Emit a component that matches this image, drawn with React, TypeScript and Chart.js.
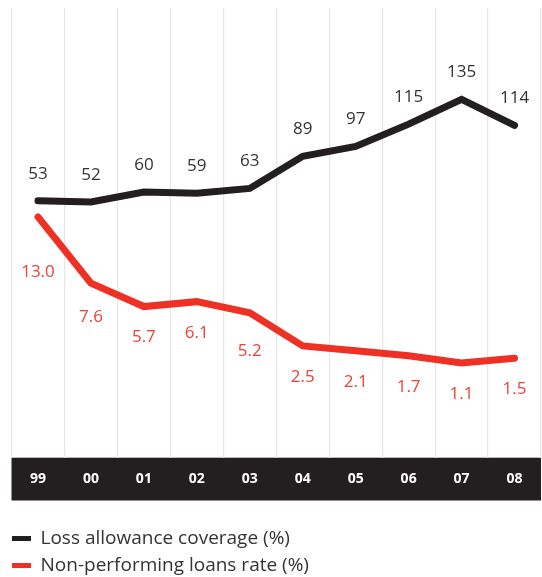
import { useEffect, useRef } from "react"
import { Chart, registerables } from "chart.js"

Chart.register(...registerables)

const years = ["99", "00", "01", "02", "03", "04", "05", "06", "07", "08"]
const coverage = [53, 52, 60, 59, 63, 89, 97, 115, 135, 114]
const nplRate = [13.0, 7.6, 5.7, 6.1, 5.2, 2.5, 2.1, 1.7, 1.1, 1.5]
const seriesNames = ["Loss allowance coverage (%)", "Non-performing loans rate (%)"]

const BLACK = "#231f20"
const RED = "#ee3124"
const FONT = "'Open Sans', sans-serif"

// value labels: black series above the line, red series below it
const valueLabels = {
  id: "valueLabels",
  afterDatasetsDraw(chart: any) {
    const ctx = chart.ctx
    ctx.save()
    ctx.font = `17px ${FONT}`
    ctx.textAlign = "center"
    ctx.textBaseline = "middle"
    chart.data.datasets.forEach((ds: any, di: number) => {
      const pts = chart.getDatasetMeta(di).data
      pts.forEach((pt: any, i: number) => {
        const v = ds.data[i] as number
        if (di === 0) {
          ctx.fillStyle = "#333333"
          ctx.fillText(String(v), pt.x, pt.y - 27)
        } else {
          // keep the label clear of the neighbouring segments
          let y = pt.y + 31
          ;[pts[i - 1], pts[i + 1]].forEach((n: any) => {
            if (n) y = Math.max(y, (pt.y + n.y) / 2 + 22)
          })
          ctx.fillStyle = "#ef4136"
          ctx.fillText(v.toFixed(1), pt.x, y)
        }
      })
    })
    ctx.restore()
  },
}

export default function App() {
  const canvasRef = useRef<HTMLCanvasElement>(null)

  useEffect(() => {
    if (!canvasRef.current) return
    const chart = new Chart(canvasRef.current, {
      type: "line",
      data: {
        labels: years,
        datasets: [
          {
            label: seriesNames[0],
            data: coverage,
            borderColor: BLACK,
            backgroundColor: BLACK,
            borderWidth: 7,
            borderCapStyle: "round",
            borderJoinStyle: "miter",
            pointRadius: 0,
            tension: 0,
            yAxisID: "y",
          },
          {
            label: seriesNames[1],
            data: nplRate,
            borderColor: RED,
            backgroundColor: RED,
            borderWidth: 7,
            borderCapStyle: "round",
            borderJoinStyle: "miter",
            pointRadius: 0,
            tension: 0,
            yAxisID: "y1",
          },
        ],
      },
      options: {
        responsive: false,
        animation: false,
        layout: { padding: { top: 8, left: 4, right: 1, bottom: 0 } },
        scales: {
          x: {
            offset: true,
            backgroundColor: BLACK,
            grid: { offset: true, color: "#e6e6e6", lineWidth: 1.2, drawTicks: false },
            border: { display: false },
            ticks: {
              color: "#ffffff",
              font: { family: FONT, size: 14, weight: "bold" },
              padding: 13,
            },
          },
          y: { display: false, min: -155, max: 209 },
          y1: {
            position: "left",
            min: -6.6,
            max: 30,
            grid: { display: false },
            border: { display: false },
            ticks: { display: false },
            afterFit: (s: any) => {
              s.width = 7.5
            },
          },
        },
        plugins: {
          legend: {
            position: "bottom",
            align: "start",
            title: { display: true, text: "", padding: 0, font: { size: 20.5, lineHeight: 1 } },
            labels: {
              boxWidth: 19,
              boxHeight: 5,
              padding: 8,
              color: "#333333",
              font: { family: FONT, size: 19 },
              generateLabels: (c: any) =>
                Chart.defaults.plugins.legend.labels
                  .generateLabels(c)
                  .map((l: any) => ({ ...l, lineWidth: 0, fillStyle: l.strokeStyle })),
            },
          },
          tooltip: { enabled: false },
        },
      },
      plugins: [valueLabels],
    } as any)

    return () => {
      chart.destroy()
    }
  }, [])

  return (
    <div
      style={{
        position: "absolute",
        left: 0,
        top: 0,
        width: 542,
        height: 577,
        overflow: "hidden",
        background: "#fff",
      }}
    >
      <canvas ref={canvasRef} width={542} height={585} style={{ display: "block" }} />
    </div>
  )
}
